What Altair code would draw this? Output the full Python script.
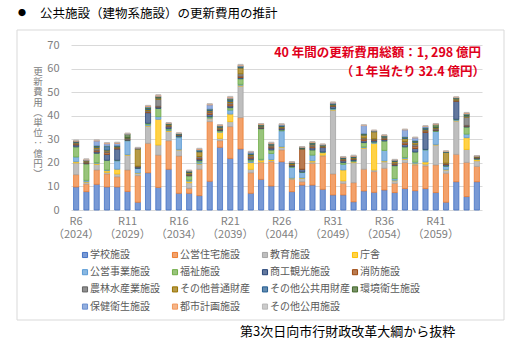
import altair as alt
import pandas as pd

# ---- data (億円 per year, 40 years) ----
YEARS = [2024, 2025, 2026, 2027, 2028, 2029, 2030, 2031, 2032, 2033,
         2034, 2035, 2036, 2037, 2038, 2039, 2040, 2041, 2042, 2043,
         2044, 2045, 2046, 2047, 2048, 2049, 2050, 2051, 2052, 2053,
         2054, 2055, 2056, 2057, 2058, 2059, 2060, 2061, 2062, 2063]

CATEGORIES = ["学校施設", "公営住宅施設", "教育施設", "庁舎",
              "公営事業施設", "福祉施設", "商工観光施設", "消防施設",
              "農林水産業施設", "その他普通財産", "その他公共用財産", "環境衛生施設",
              "保健衛生施設", "都市計画施設", "その他公用施設"]

school = [9.8, 7.8, 10.9, 9.8, 9.8, 7.9, 3.3, 15.8, 9.6, 17.3, 7.1, 7.1, 6.1, 12.2, 26.6, 21.9, 25.9, 7.1, 13.0, 10.2,
          20.5, 7.8, 10.6, 10.6, 8.8, 6.4, 6.4, 3.5, 8.1, 7.5, 8.5, 7.4, 9.1, 8.2, 9.1, 7.4, 3.3, 12.0, 5.7, 12.0]
housing = [5.2, 3.2, 6.1, 5.5, 4.3, 9.1, 11.3, 12.5, 13.7, 12.1, 15.8, 2.1, 11.2, 25.3, 2.8, 13.5, 13.3, 8.7, 7.1, 10.3,
           5.0, 5.2, 1.4, 9.2, 14.1, 8.9, 4.9, 8.1, 9.2, 8.8, 9.2, 3.9, 11.0, 10.9, 9.6, 11.7, 12.3, 11.6, 14.5, 6.5]
education = [5.0, 0.8, 2.4, 0.7, 1.2, 6.3, 1.0, 7.3, 4.3, 4.0, 2.6, 2.4, 2.2, 1.2, 1.0, 2.1, 13.4, 1.5, 0.3, 0.5,
             1.1, 0.3, 1.4, 0.6, 0.4, 27.1, 1.1, 8.5, 8.9, 0.7, 2.8, 1.1, 1.4, 0.4, 0.8, 8.5, 1.4, 14.2, 5.5, 2.4]
office = [0.5, 0.2, 0.4, 0.7, 2.0, 0.2, 0.1, 0.2, 10.9, 0.3, 0.2, 0.6, 0.2, 0.2, 2.6, 3.2, 0.3, 2.8, 0.8, 0.4,
          0.2, 0.2, 0.2, 0.5, 1.0, 0.2, 4.6, 0.3, 0.3, 11.3, 0.3, 0.2, 0.3, 0.3, 0.9, 0.2, 0.2, 0.2, 5.0, 0.5]
enterprise = [2.0, 0.6, 0.3, 0.3, 3.6, 5.9, 1.9, 0.5, 1.1, 0.3, 5.3, 0.5, 0.6, 0.3, 0.3, 1.7, 0.4, 0.6, 0.3, 2.6,
              6.8, 4.6, 2.4, 2.4, 0.2, 0.3, 2.4, 0.3, 0.3, 0.5, 4.5, 0.7, 0.5, 0.5, 5.1, 5.5, 1.4, 0.3, 1.5, 0.2]
welfare = [4.3, 7.0, 4.0, 4.1, 0.2, 0.2, 0.1, 0.5, 3.5, 0.5, 0.1, 1.8, 0.6, 0.4, 0.4, 1.0, 2.4, 0.6, 13.0, 1.5,
           0.4, 0.3, 0.1, 2.2, 0.1, 0.2, 0.7, 0.2, 1.8, 0.1, 4.0, 5.5, 4.5, 4.3, 0.2, 0.3, 0.1, 0.2, 3.0, 0.1]
commerce = [0.8, 0.3, 0.6, 2.5, 4.8, 0.2, 0.6, 4.5, 0.6, 0.8, 0.6, 0.3, 0.7, 1.0, 0.3, 0.8, 0.5, 0.7, 0.3, 0.8,
            0.5, 0.4, 1.2, 0.9, 1.9, 0.8, 0.8, 0.5, 0.8, 0.7, 0.6, 0.4, 1.0, 1.5, 7.2, 0.3, 0.6, 7.6, 0.4, 0.4]
fire = [0.4, 0.2, 0.5, 0.8, 0.4, 0.1, 0.2, 0.4, 0.3, 0.3, 0.1, 0.3, 0.5, 0.8, 0.3, 0.8, 0.6, 0.6, 0.2, 0.4,
        0.2, 0.2, 8.4, 0.5, 0.2, 0.2, 0.3, 0.2, 0.7, 0.3, 0.3, 0.4, 0.7, 1.0, 0.6, 0.2, 0.3, 0.2, 0.3, 0.1]
agriculture = [0.4, 0.3, 0.8, 0.6, 0.3, 0.5, 0.1, 0.5, 3.0, 0.3, 0.1, 0.3, 0.6, 0.5, 0.4, 0.6, 1.0, 0.5, 0.3, 0.5,
               0.4, 0.3, 0.2, 0.7, 0.3, 0.3, 0.4, 0.3, 0.5, 0.3, 0.4, 0.4, 0.6, 0.8, 0.4, 0.5, 0.3, 0.3, 3.5, 0.2]
other_general = [0.3, 0.4, 0.6, 0.4, 0.2, 0.2, 7.3, 0.4, 0.5, 0.3, 0.1, 0.5, 2.0, 0.3, 0.4, 0.5, 2.5, 0.4, 0.3, 0.3,
                 0.3, 0.5, 0.3, 0.3, 0.2, 0.2, 0.2, 0.3, 1.2, 3.0, 0.3, 0.6, 1.2, 0.8, 0.3, 0.3, 4.5, 0.5, 0.4, 0.2]
other_public = [0.3, 0.2, 0.4, 1.5, 0.4, 0.1, 0.2, 0.4, 0.3, 0.2, 0.2, 0.2, 0.4, 0.4, 0.3, 0.6, 0.4, 0.3, 0.2, 0.3,
                0.3, 0.2, 0.1, 0.3, 0.3, 0.4, 0.3, 0.3, 0.3, 0.2, 0.3, 0.2, 0.4, 0.4, 0.5, 0.2, 0.2, 0.3, 0.3, 0.1]
environment = [0.2, 0.1, 0.3, 0.2, 0.1, 1.5, 0.1, 0.6, 0.3, 0.2, 0.1, 0.4, 0.3, 0.2, 0.2, 0.5, 0.3, 0.2, 0.3, 0.2,
               0.2, 0.1, 0.3, 0.3, 0.1, 0.2, 0.2, 0.2, 0.3, 0.1, 0.2, 0.3, 0.3, 0.3, 0.2, 1.2, 0.1, 0.2, 0.6, 0.1]
health = [0.0, 0.1, 2.0, 1.0, 1.0, 0.1, 0.1, 0.3, 0.2, 0.2, 0.2, 0.1, 0.3, 1.8, 0.2, 0.3, 0.2, 0.6, 0.2, 0.3,
          0.3, 0.2, 0.1, 0.2, 0.1, 0.2, 0.1, 0.1, 3.4, 0.1, 0.2, 0.1, 3.0, 1.2, 0.5, 0.1, 0.1, 0.1, 0.2, 0.1]
urban = [0.3, 0.3, 0.3, 0.3, 0.3, 0.2, 0.2, 0.3, 0.4, 0.2, 0.1, 0.2, 0.3, 0.3, 0.3, 0.4, 0.3, 0.2, 0.3, 0.3,
         0.2, 0.1, 0.1, 0.2, 0.2, 0.3, 0.2, 0.3, 0.2, 0.2, 0.2, 0.2, 0.2, 0.2, 0.2, 0.2, 0.2, 0.2, 0.3, 0.1]
other_official = [0.2, 0.2, 0.2, 0.2, 0.2, 0.1, 0.1, 0.2, 0.2, 0.1, 0.1, 0.1, 0.2, 0.2, 0.1, 0.3, 0.3, 0.1, 0.1, 0.2,
                  0.2, 0.1, 0.1, 0.1, 0.1, 0.1, 0.1, 0.2, 0.2, 0.1, 0.1, 0.1, 0.1, 0.1, 0.2, 0.1, 0.1, 0.1, 0.2, 0.1]

SERIES = [school, housing, education, office, enterprise, welfare, commerce, fire,
          agriculture, other_general, other_public, environment, health, urban, other_official]

# x-axis labels (Reiwa era / western year), every five years
TICK_YEARS = [2024, 2029, 2034, 2039, 2044, 2049, 2054, 2059]
TICK_REIWA = ["R6", "R11", "R16", "R21", "R26", "R31", "R36", "R41"]

TITLE = "公共施設（建物系施設）の更新費用の推計"
NOTE_1 = "40 年間の更新費用総額：1, 298 億円"
NOTE_2 = "（１年当たり 32.4 億円）"
SOURCE = "第3次日向市行財政改革大綱から抜粋"
Y_TITLE = ["更", "新", "費", "用", "︵", "単", "位", "‥", "億", "円", "︶"]

# ---- styling ----
EDGE = ["#4472C4", "#ED7D31", "#A5A5A5", "#FFC000", "#5B9BD5", "#70AD47", "#264478", "#9E480E",
        "#636363", "#997300", "#255E91", "#43682B", "#698ED0", "#F1975A", "#B7B7B7"]


def lighten(hex_color, amount=0.28):
    r, g, b = (int(hex_color[i:i + 2], 16) for i in (1, 3, 5))
    mix = lambda c: round(c + (255 - c) * amount)
    return "#{:02x}{:02x}{:02x}".format(mix(r), mix(g), mix(b))


FILL = [lighten(c) for c in EDGE]

FONT = "Noto Sans CJK JP"
W, H = 411, 165
LEFT, TOP = 71, 45

# legend grid: 4 columns, fixed column pitch like a spreadsheet legend
LEG_COLS, LEG_DX, LEG_DY = 4, 90, 17.2
LEG_X0, LEG_Y0 = 85 - LEFT, 255 - TOP

rows = []
for k, (cat, vals) in enumerate(zip(CATEGORIES, SERIES)):
    for yr, v in zip(YEARS, vals):
        rows.append({"year": yr, "cat": cat, "order": k, "value": v})
df = pd.DataFrame(rows)

ticks_df = pd.DataFrame({
    "year": TICK_YEARS,
    "label": [[r, "（" + str(y) + "）"] for r, y in zip(TICK_REIWA, TICK_YEARS)],
})

legend_df = pd.DataFrame({
    "cat": CATEGORIES,
    "lx": [LEG_X0 + (i % LEG_COLS) * LEG_DX for i in range(len(CATEGORIES))],
    "ly": [LEG_Y0 + (i // LEG_COLS) * LEG_DY for i in range(len(CATEGORIES))],
})

x_scale = alt.Scale(type="band", domain=YEARS, paddingInner=0.5, paddingOuter=0.25)
fill_scale = alt.Scale(domain=CATEGORIES, range=FILL)
edge_scale = alt.Scale(domain=CATEGORIES, range=EDGE)

bars = alt.Chart(df).mark_bar(strokeWidth=0.8).encode(
    x=alt.X("year:O", scale=x_scale,
            axis=alt.Axis(labels=False, title=None, domainColor="#d9d9d9", tickColor="#d9d9d9",
                          tickBand="extent", tickSize=4, grid=False)),
    y=alt.Y("value:Q", stack="zero",
            scale=alt.Scale(domain=[0, 70]),
            axis=alt.Axis(values=[0, 10, 20, 30, 40, 50, 60, 70], title=None, domain=False, ticks=False,
                          gridColor="#d9d9d9", labelColor="#808080", labelFont=FONT,
                          labelFontSize=11, labelPadding=12)),
    fill=alt.Fill("cat:N", scale=fill_scale, legend=None),
    stroke=alt.Stroke("cat:N", scale=edge_scale, legend=None),
    order=alt.Order("order:Q", sort="ascending"),
)

x_labels = alt.Chart(ticks_df).mark_text(
    font=FONT, fontSize=11, color="#808080", baseline="top", lineHeight=12.5
).encode(x=alt.X("year:O", scale=x_scale, axis=None), y=alt.value(171), text="label")

plot = alt.layer(bars, x_labels)

leg_sym = alt.Chart(legend_df).mark_square(size=26, strokeWidth=1, opacity=1).encode(
    x=alt.X("lx:Q", scale=None, axis=None),
    y=alt.Y("ly:Q", scale=None, axis=None),
    fill=alt.Fill("cat:N", scale=fill_scale, legend=None),
    stroke=alt.Stroke("cat:N", scale=edge_scale, legend=None),
)
leg_txt = alt.Chart(legend_df).mark_text(
    font=FONT, fontSize=10, color="#595959", align="left", baseline="middle", dx=5
).encode(
    x=alt.X("lx:Q", scale=None, axis=None),
    y=alt.Y("ly:Q", scale=None, axis=None),
    text="cat:N",
)
legend = alt.layer(leg_sym, leg_txt)

one = pd.DataFrame({"k": [0]})

frame = alt.Chart(one).mark_rect(fill=None, stroke="#d9d9d9", strokeWidth=1).encode(
    x=alt.value(17 - LEFT), x2=alt.value(504 - LEFT), y=alt.value(30 - TOP), y2=alt.value(320 - TOP))

bullet = alt.Chart(one).mark_text(text="●", font=FONT, fontSize=8, color="#000000",
                                  align="left", baseline="middle").encode(
    x=alt.value(18 - LEFT), y=alt.value(14 - TOP))
title = alt.Chart(one).mark_text(text=TITLE, font=FONT, fontSize=12.5, color="#000000",
                                 align="left", baseline="middle").encode(
    x=alt.value(40 - LEFT), y=alt.value(14 - TOP))

note1 = alt.Chart(one).mark_text(text=NOTE_1, font=FONT, fontSize=12.5, fontWeight="bold", color="#e0001b",
                                 align="right", baseline="middle").encode(
    x=alt.value(481 - LEFT), y=alt.value(53 - TOP))
note2 = alt.Chart(one).mark_text(text=NOTE_2, font=FONT, fontSize=12.5, fontWeight="bold", color="#e0001b",
                                 align="right", baseline="middle").encode(
    x=alt.value(485 - LEFT), y=alt.value(72 - TOP))

y_title = alt.Chart(one).mark_text(text=Y_TITLE, font=FONT, fontSize=9.5, color="#808080",
                                   align="center", baseline="top", lineHeight=10.2).encode(
    x=alt.value(38 - LEFT), y=alt.value(67 - TOP))

source = alt.Chart(one).mark_text(text=SOURCE, font=FONT, fontSize=13, color="#000000",
                                  align="left", baseline="middle").encode(
    x=alt.value(240 - LEFT), y=alt.value(332 - TOP))

chart = alt.layer(frame, plot, legend, bullet, title, note1, note2, y_title, source).resolve_scale(
    x="independent", y="independent"
).properties(
    width=W, height=H,
    autosize=alt.AutoSizeParams(type="none"),
    padding={"left": LEFT, "top": TOP, "right": 519 - LEFT - W, "bottom": 347 - TOP - H},
    background="#ffffff",
).configure_view(stroke=None)

chart.save("out.html", embed_options={"renderer": "svg", "actions": False})
